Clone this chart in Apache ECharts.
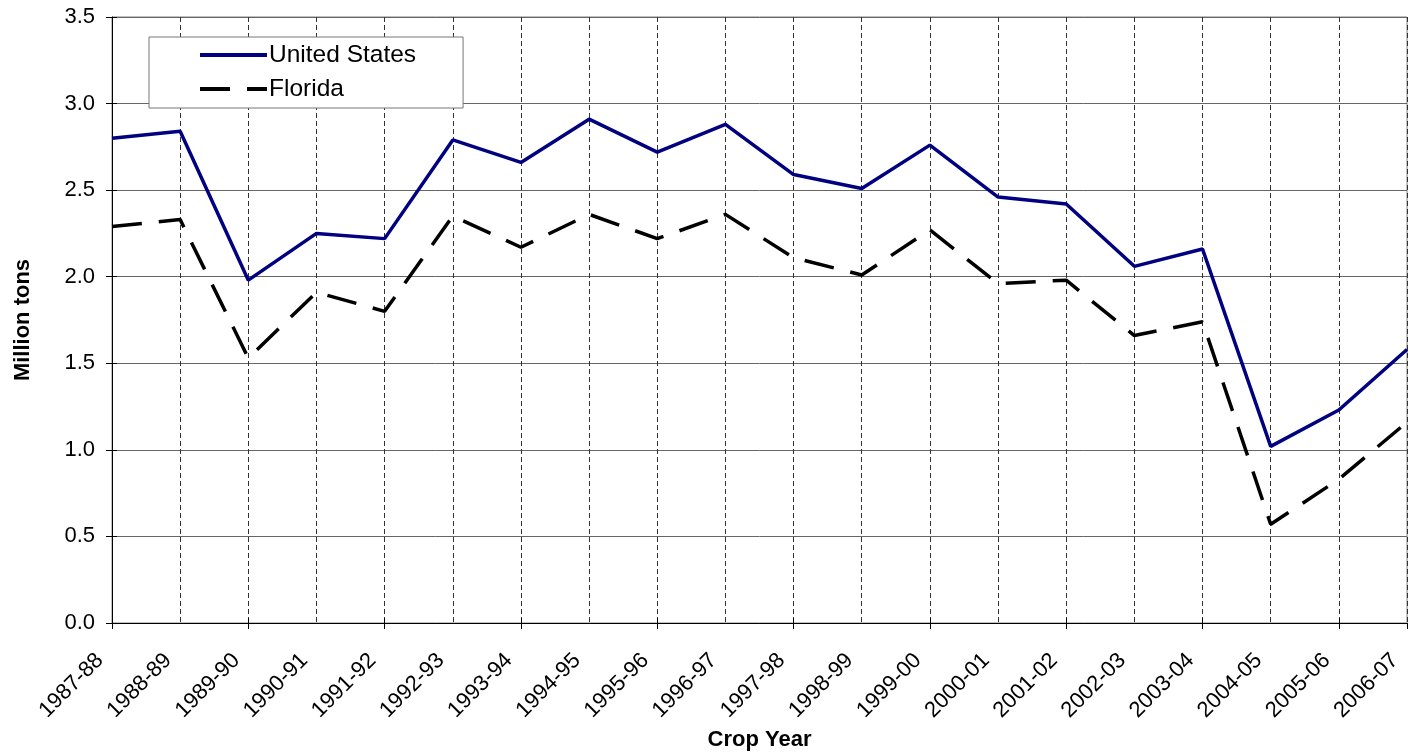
<!DOCTYPE html>
<html>
<head>
<meta charset="utf-8">
<script src="https://cdn.jsdelivr.net/npm/echarts@6/dist/echarts.min.js"></script>
<style>
html,body{margin:0;padding:0;background:#fff;}
#chart{width:1413px;height:752px;}
</style>
</head>
<body>
<div id="chart"></div>
<script>
const categories = ["1987-88","1988-89","1989-90","1990-91","1991-92","1992-93","1993-94","1994-95","1995-96","1996-97","1997-98","1998-99","1999-00","2000-01","2001-02","2002-03","2003-04","2004-05","2005-06","2006-07"];
const unitedStates = [2.80, 2.84, 1.98, 2.25, 2.22, 2.79, 2.66, 2.91, 2.72, 2.88, 2.59, 2.51, 2.76, 2.46, 2.42, 2.06, 2.16, 1.02, 1.23, 1.58];
const florida = [2.29, 2.33, 1.53, 1.91, 1.80, 2.35, 2.17, 2.36, 2.22, 2.36, 2.11, 2.01, 2.27, 1.96, 1.98, 1.66, 1.74, 0.57, 0.83, 1.16];
const yMin = 0, yMax = 3.5, yStep = 0.5;

const font = 'Arial, "Liberation Sans", sans-serif';
const chart = echarts.init(document.getElementById('chart'));
chart.setOption({
  animation: false,
  backgroundColor: '#fff',
  grid: { left: 112, right: 6, top: 17, bottom: 129, show: true, borderColor: '#808080', borderWidth: 1, containLabel: false, outerBoundsMode: 'none' },
  legend: {
    orient: 'vertical', left: 149, top: 37,
    backgroundColor: '#fff', borderColor: '#777', borderWidth: 1, borderRadius: 0,
    padding: [5, 47, 6, 49],
    itemWidth: 67, itemHeight: 14, itemGap: 8,
    itemStyle: { opacity: 0 },
    lineStyle: { width: 4 },
    textStyle: { fontFamily: font, fontSize: 24.5, lineHeight: 26, color: '#000', padding: [0, 0, 0, -3] },
    data: ['United States', 'Florida']
  },
  xAxis: [{
    type: 'category', boundaryGap: false, data: categories,
    name: 'Crop Year', nameLocation: 'middle', nameGap: 105,
    nameTextStyle: { fontFamily: font, fontSize: 22, fontWeight: 'bold', color: '#000' },
    axisLine: { lineStyle: { color: '#000', width: 1 } },
    axisTick: { show: true, interval: 1, length: 6, lineStyle: { color: '#000' } },
    axisLabel: { interval: 0, rotate: 45, fontFamily: font, fontSize: 22, color: '#000', margin: 22, padding: [0, 17, 0, 0] },
    splitLine: { show: true, interval: 0, lineStyle: { color: '#333', type: [5, 3], width: 1 } }
  }, {
    type: 'category', boundaryGap: false, data: categories, position: 'top',
    axisLine: { show: true, lineStyle: { color: '#000', width: 1 } },
    axisTick: { show: false }, axisLabel: { show: false }, splitLine: { show: false }
  }, {
    type: 'category', boundaryGap: false, data: categories, position: 'bottom', offset: 0,
    axisLine: { show: false },
    axisTick: { show: true, inside: true, interval: 1, length: 5, lineStyle: { color: '#000' } },
    axisLabel: { show: false }, splitLine: { show: false }
  }],
  yAxis: [{
    type: 'value', min: yMin, max: yMax, interval: yStep,
    name: 'Million tons', nameLocation: 'middle', nameGap: 78, nameRotate: 90,
    nameTextStyle: { fontFamily: font, fontSize: 22, fontWeight: 'bold', color: '#000' },
    axisLine: { show: true, lineStyle: { color: '#000', width: 1 } },
    axisTick: { show: true, length: 6, lineStyle: { color: '#000' } },
    axisLabel: { fontFamily: font, fontSize: 22, color: '#000', margin: 17, formatter: v => v.toFixed(1) },
    splitLine: { show: true, lineStyle: { color: '#666', width: 1 } }
  }, {
    type: 'value', min: yMin, max: yMax, interval: yStep, position: 'left', offset: 0,
    axisLine: { show: false },
    axisTick: { show: true, inside: true, length: 5, lineStyle: { color: '#000' } },
    axisLabel: { show: false }, splitLine: { show: false }
  }],
  series: [{
    name: 'United States', type: 'line', data: unitedStates, symbol: 'none',
    lineStyle: { color: '#000080', width: 3.5 }, itemStyle: { color: '#000080' }
  }, {
    name: 'Florida', type: 'line', data: florida, symbol: 'none',
    lineStyle: { color: '#000', width: 3.5, type: [30, 17] }, itemStyle: { color: '#000' }
  }]
});
</script>
</body>
</html>
